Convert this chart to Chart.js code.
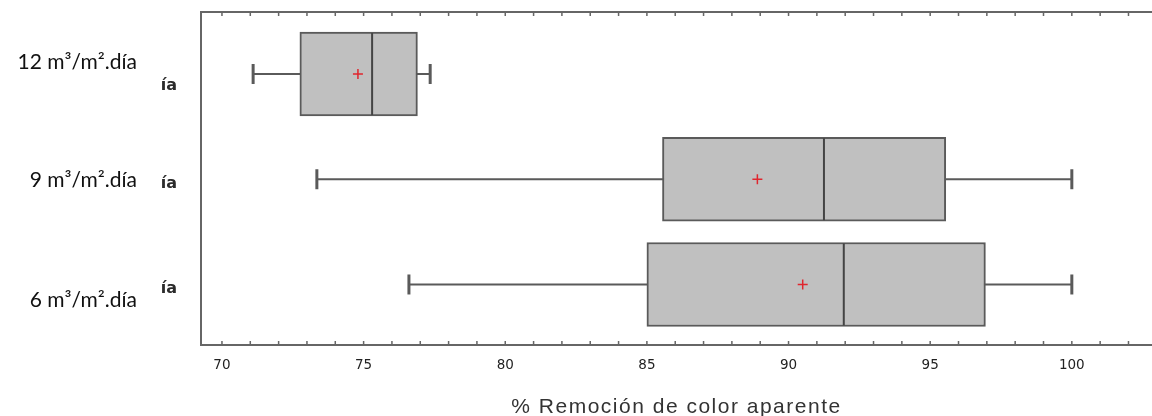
<!DOCTYPE html>
<html>
<head>
<meta charset="utf-8">
<script src="https://cdn.jsdelivr.net/npm/chart.js@4/dist/chart.umd.min.js"></script>
<style>
  html, body { margin: 0; padding: 0; background: #fff; }
  #wrap { width: 1152px; height: 416px; position: relative; }
</style>
</head>
<body>
<div id="wrap"><canvas id="boxChart"></canvas></div>
<script>
// values (% removal per hydraulic load)
const categories = ['12 m³/m².día', '9 m³/m².día', '6 m³/m².día'];
const whiskerMin = [71.1, 73.35, 76.6];
const q1 = [72.75, 85.55, 85.0];
const median = [75.3, 91.25, 91.95];
const q3 = [76.9, 95.55, 96.95];
const whiskerMax = [77.35, 100, 100];
const mean = [74.8, 88.9, 90.5];
const xTickLabels = [70, 75, 80, 85, 90, 95, 100];
const xTitle = '% Remoción de color aparente';

const lineGrey = '#5a5a5a';

// label baseline offsets from the box centre (px)
const bigLabelDy = [-5, 7.5, 22.5];
const ghostLabelDy = [16, 8.5, 8.5];

const ctxBox = document.getElementById('boxChart');

const datasets = [];

// boxes Q1..Q3
datasets.push({
    type: 'bar',
    indexAxis: 'y',
    data: categories.map((c, i) => ({ y: i, x: [q1[i], q3[i]] })),
    backgroundColor: '#c0c0c0',
    borderColor: lineGrey,
    borderWidth: 2,
    borderSkipped: false,
    barThickness: 84,
    order: 2
});

// medians
datasets.push({
    type: 'scatter',
    data: categories.map((c, i) => ({ x: median[i], y: i })),
    pointStyle: 'line',
    rotation: 90,
    radius: 41,
    borderColor: '#444',
    borderWidth: 2,
    order: 1
});

// means
datasets.push({
    type: 'scatter',
    data: categories.map((c, i) => ({ x: mean[i], y: i })),
    pointStyle: 'cross',
    radius: 5,
    borderColor: '#e0262e',
    borderWidth: 1.5,
    order: 0
});

// whiskers with caps, drawn behind the boxes
categories.forEach((c, i) => {
    datasets.push({
        type: 'scatter',
        showLine: true,
        data: [{ x: whiskerMin[i], y: i }, { x: whiskerMax[i], y: i }],
        borderColor: lineGrey,
        borderWidth: 2,
        pointStyle: 'line',
        rotation: 90,
        radius: 10,
        pointBorderColor: lineGrey,
        pointBorderWidth: 3,
        order: 5
    });
});

const framePlugin = {
    id: 'frame',
    afterDraw(chart) {
        const ctx = chart.ctx;
        const a = chart.chartArea;
        const xs = chart.scales.x;
        const ys = chart.scales.y;
        ctx.save();
        ctx.strokeStyle = '#666';
        ctx.lineWidth = 2;
        ctx.beginPath();
        ctx.moveTo(a.right + 2, a.top);
        ctx.lineTo(a.left, a.top);
        ctx.lineTo(a.left, a.bottom);
        ctx.lineTo(a.right + 2, a.bottom);
        ctx.stroke();
        // small inward ticks every unit
        ctx.lineWidth = 1.5;
        ctx.beginPath();
        for (let v = Math.ceil(xs.min); v <= xs.max; v++) {
            const px = xs.getPixelForValue(v);
            ctx.moveTo(px, a.top);
            ctx.lineTo(px, a.top + 4);
            ctx.moveTo(px, a.bottom);
            ctx.lineTo(px, a.bottom - 4);
        }
        ctx.stroke();

        // category labels
        ctx.textAlign = 'right';
        ctx.textBaseline = 'alphabetic';
        categories.forEach((c, i) => {
            const py = ys.getPixelForValue(i);
            ctx.fillStyle = '#111';
            ctx.font = '21px Lato';
            ctx.fillText(c, 137, py + bigLabelDy[i], 127);
            ctx.fillStyle = '#2b2b2b';
            ctx.font = 'bold 16px "DejaVu Sans"';
            ctx.fillText(c.slice(-2), 177, py + ghostLabelDy[i]);
        });

        // axis title, slightly spaced out like the source
        ctx.textAlign = 'center';
        ctx.fillStyle = '#333';
        ctx.font = '21px "Liberation Sans"';
        ctx.letterSpacing = '1.5px';
        ctx.fillText(xTitle, (a.left + a.right) / 2, chart.height - 3);
        ctx.restore();
    }
};

const configBox = {
    data: { datasets: datasets },
    plugins: [framePlugin],
    options: {
        responsive: true,
        maintainAspectRatio: false,
        animation: false,
        layout: { autoPadding: false, padding: { top: 12, right: 0, bottom: 0, left: 0 } },
        plugins: {
            legend: { display: false },
            tooltip: { enabled: false }
        },
        scales: {
            x: {
                type: 'linear',
                position: 'bottom',
                offset: false,
                min: 69.26,
                max: 102.83,
                afterBuildTicks: s => { s.ticks = xTickLabels.map(v => ({ value: v })); },
                afterFit: s => { s.height = 71; },
                grid: { display: false, drawTicks: false },
                border: { display: false },
                ticks: {
                    color: '#222',
                    padding: 12,
                    maxRotation: 0,
                    font: { family: 'DejaVu Sans', size: 13.5 }
                },
                title: { display: false }
            },
            y: {
                type: 'linear',
                reverse: true,
                offset: false,
                min: -0.589,
                max: 2.575,
                afterFit: s => { s.width = 201; },
                grid: { display: false },
                border: { display: false },
                ticks: { display: false }
            }
        }
    }
};

const boxChart = new Chart(ctxBox, configBox);
</script>
</body>
</html>
